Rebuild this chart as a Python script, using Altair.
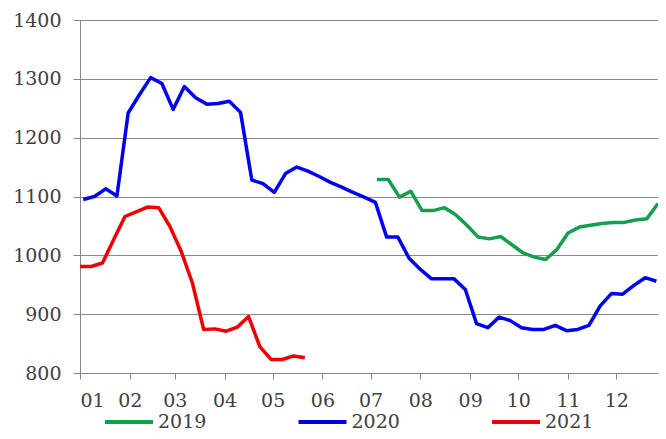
import altair as alt
import pandas as pd

# Weekly series
years = ["2019", "2020", "2021"]
start_dates = {"2019": "2019-07-05", "2020": "2020-01-03", "2021": "2021-01-01"}
values_2019 = [1129, 1129, 1099, 1109, 1076, 1076, 1081, 1069, 1051, 1031, 1028, 1032, 1018,
               1004, 997, 993, 1010, 1038, 1048, 1051, 1054, 1056, 1056, 1060, 1062, 1088]
values_2020 = [1095, 1100, 1113, 1101, 1242, 1273, 1302, 1292, 1248, 1287, 1268, 1257, 1258,
               1262, 1243, 1128, 1122, 1107, 1139, 1150, 1143, 1134, 1124, 1116, 1107, 1099,
               1090, 1031, 1031, 995, 976, 960, 960, 960, 942, 884, 877, 895, 889, 877, 874,
               874, 881, 872, 874, 881, 914, 935, 934, 949, 962, 956]
values_2021 = [981, 981, 987, 1027, 1066, 1074, 1082, 1081, 1049, 1007, 953, 874, 875, 871,
               878, 896, 845, 823, 823, 829, 826]
month_labels = ["01", "02", "03", "04", "05", "06", "07", "08", "09", "10", "11", "12"]
month_start_days = [0, 31, 59, 90, 120, 151, 181, 212, 243, 273, 304, 334]
y_ticks = [800, 900, 1000, 1100, 1200, 1300, 1400]
colors = ["#13A04E", "#0000EE", "#EE0000"]

series = {"2019": values_2019, "2020": values_2020, "2021": values_2021}
rows = []
for y in years:
    dates = pd.date_range(start_dates[y], periods=len(series[y]), freq="7D")
    jan1 = pd.Timestamp(f"{y}-01-01")
    for d, v in zip(dates, series[y]):
        rows.append({"year": y, "day": (d - jan1).days, "value": v})
df = pd.DataFrame(rows)

label_expr = ("[" + ",".join(f"'{m}'" for m in month_labels) + "][indexof(["
              + ",".join(str(d) for d in month_start_days) + "], datum.value)]")

FONT = "DejaVu Serif"

chart = alt.Chart(df).mark_line(strokeWidth=3.5, strokeJoin="round").encode(
    x=alt.X("day:Q",
            scale=alt.Scale(domain=[0, 360], nice=False, zero=False),
            axis=alt.Axis(values=month_start_days, labelExpr=label_expr, title=None,
                          grid=False, tickSize=6, labelPadding=12, domainColor="#888888",
                          tickColor="#888888", labelFont=FONT, labelFontSize=19,
                          labelColor="#404040", labelAngle=0, labelOverlap=False)),
    y=alt.Y("value:Q",
            scale=alt.Scale(domain=[800, 1400], nice=False, zero=False),
            axis=alt.Axis(values=y_ticks, format="d", title=None,
                          grid=True, gridColor="#8a8a8a", gridWidth=1, tickSize=7,
                          labelPadding=12, domainColor="#888888", tickColor="#888888",
                          labelFont=FONT, labelFontSize=19, labelColor="#404040")),
    color=alt.Color("year:N",
                    scale=alt.Scale(domain=years, range=colors),
                    legend=alt.Legend(orient="none", legendX=23, legendY=376,
                                      direction="horizontal", title=None,
                                      symbolType="stroke", symbolSize=2304,
                                      symbolStrokeWidth=4, labelOffset=3,
                                      columnPadding=83.5, labelFont=FONT,
                                      labelFontSize=19, labelColor="#404040",
                                      padding=0)),
).properties(
    width=578, height=353,
    autosize=alt.AutoSizeParams(type="none"),
    padding={"left": 72, "top": 12, "right": 0, "bottom": 58},
).configure_view(stroke=None).configure(background="white")

chart.save("out.html", embed_options={"renderer": "svg", "actions": False})
